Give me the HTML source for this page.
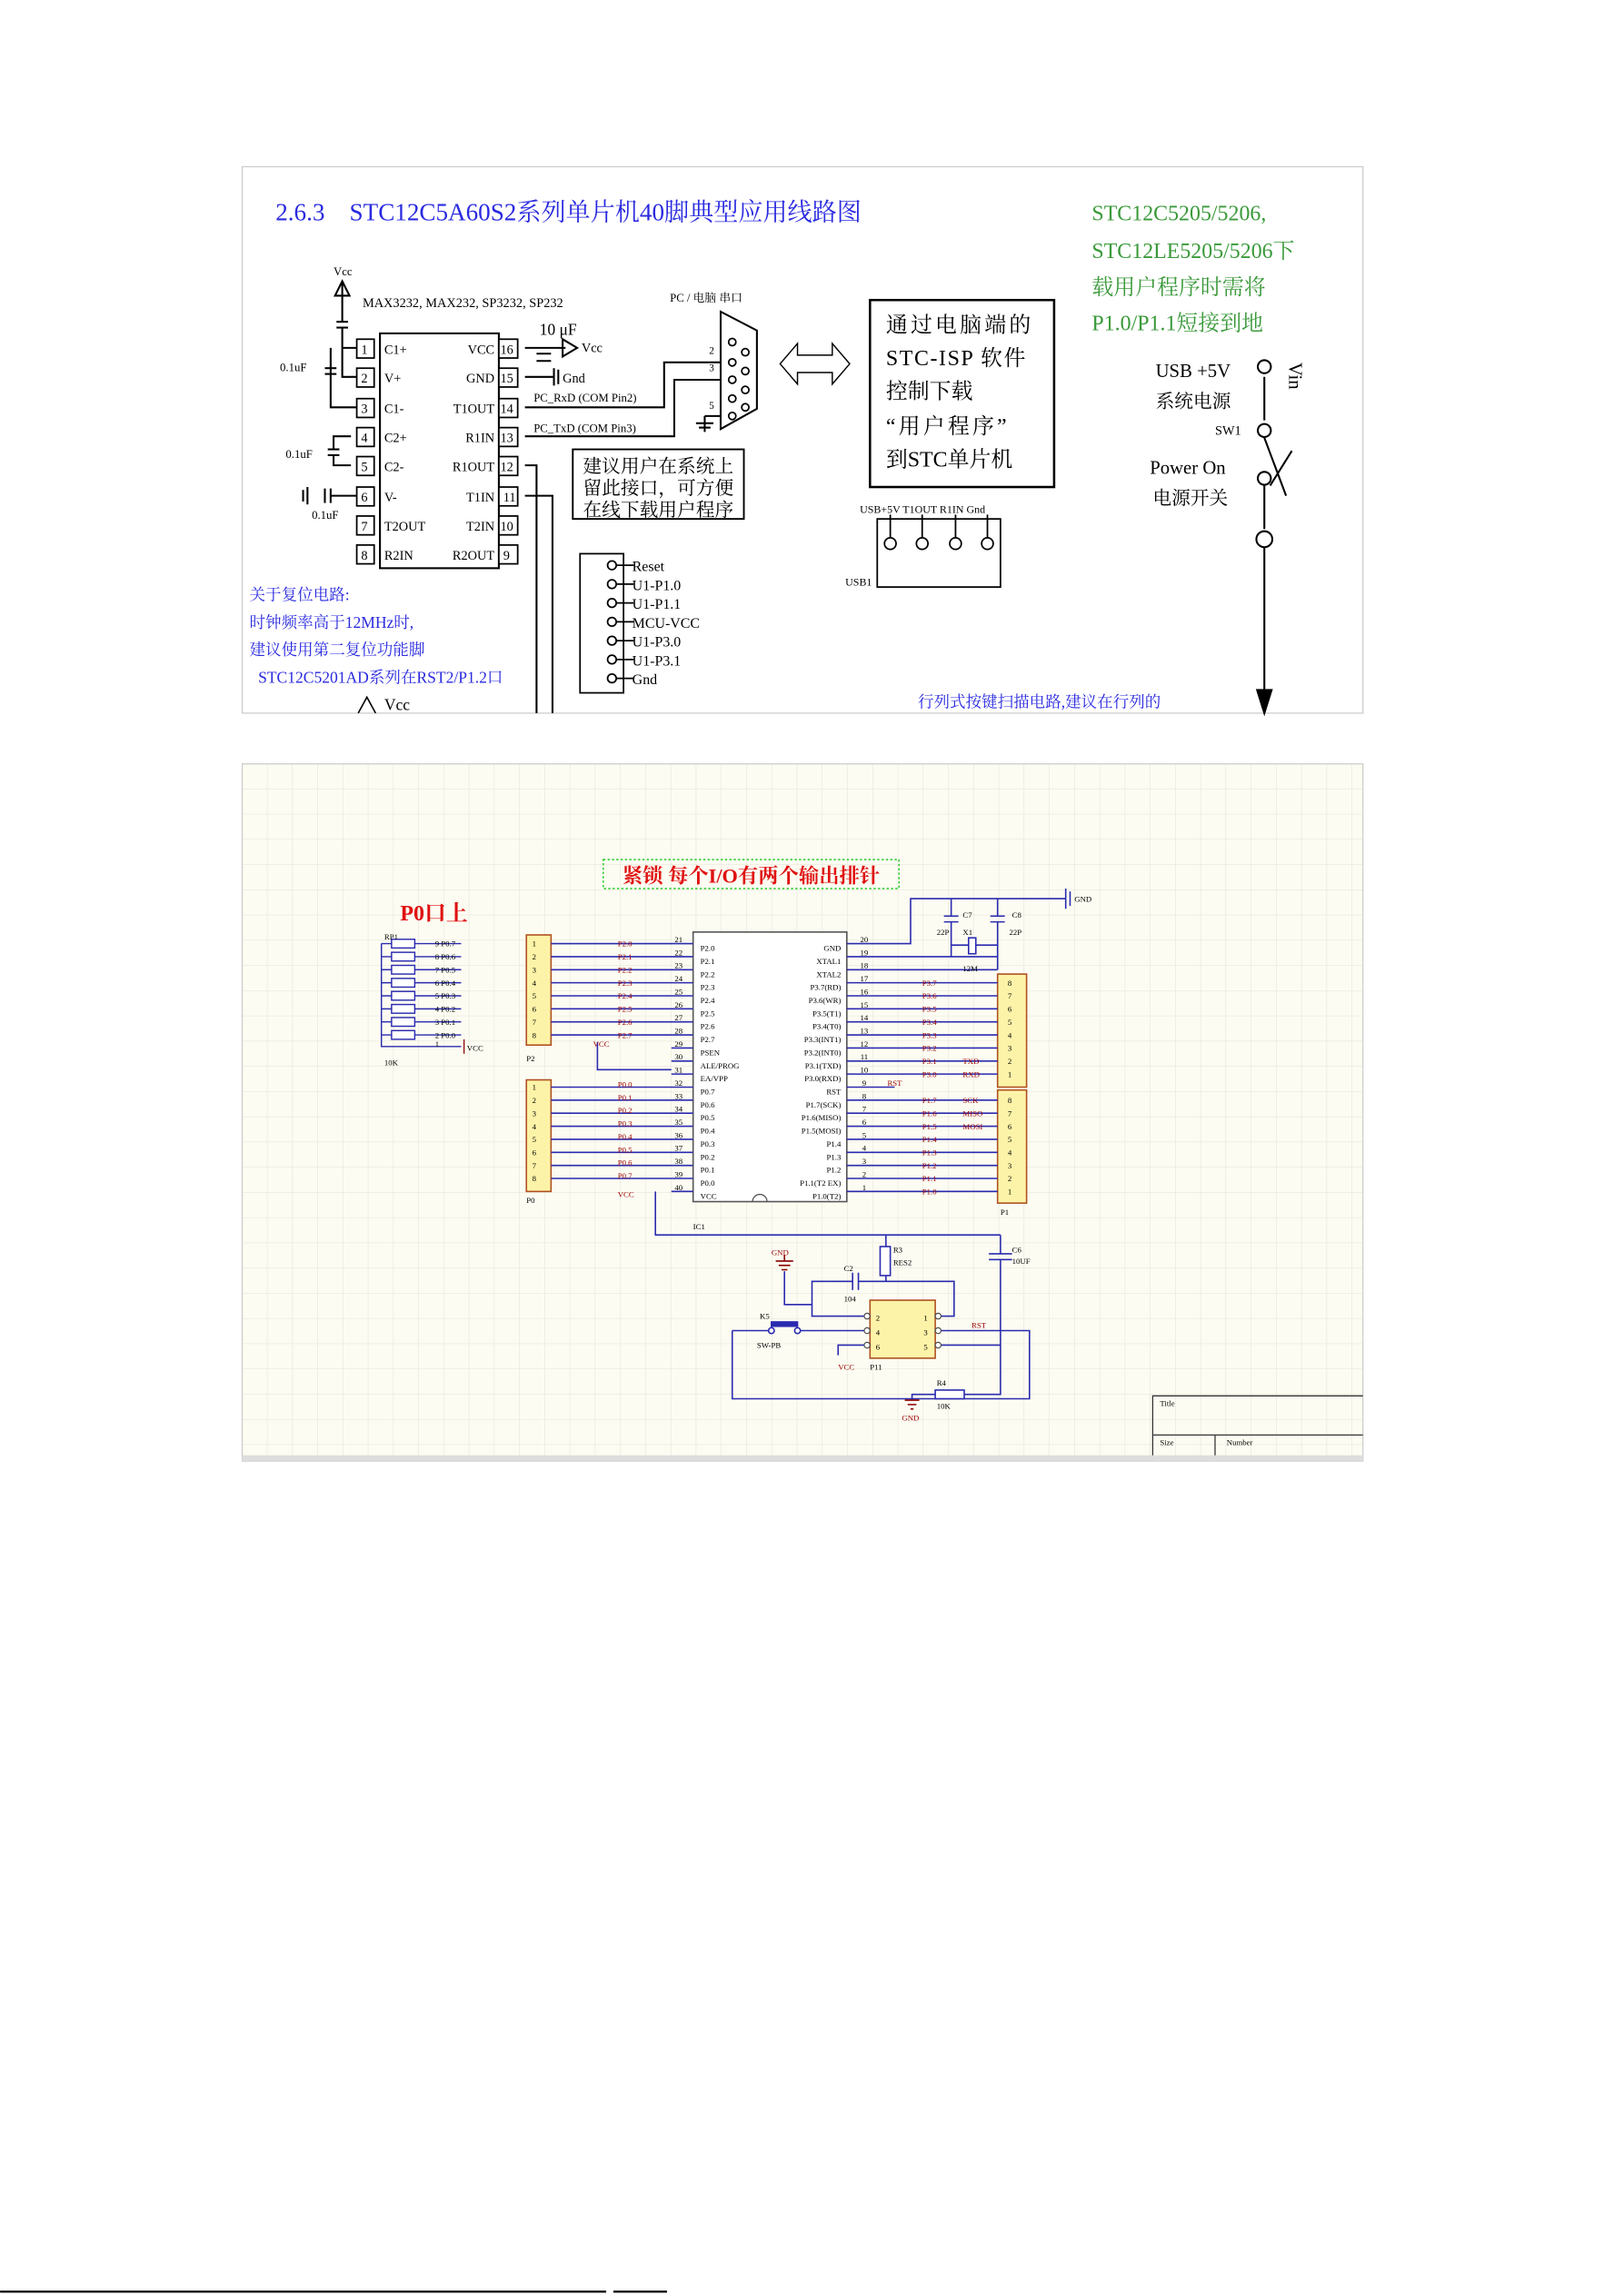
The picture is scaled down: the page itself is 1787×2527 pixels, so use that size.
<!DOCTYPE html>
<html><head><meta charset="utf-8"><style>
html,body{margin:0;padding:0;background:#fff;}
svg{display:block;}
text{font-family:"Liberation Serif","Noto Serif CJK SC","Noto Sans CJK SC",serif;}
</style></head><body>
<svg width="1787" height="2527" viewBox="0 0 1120 1584" xmlns="http://www.w3.org/2000/svg">
<defs>
<pattern id="g" width="17.4" height="17.4" patternUnits="userSpaceOnUse" x="167" y="527">
<path d="M17.4 0V17.4H0" fill="none" stroke="#e2e2d8" stroke-width="0.6"/></pattern>
</defs>
<!-- TOP PANEL -->
<rect x="167" y="115" width="773" height="377" fill="#fff" stroke="#ccc" stroke-width="0.8"/>
<text x="190" y="152" font-size="17" fill="#2a2ae0">2.6.3　STC12C5A60S2系列单片机40脚典型应用线路图</text>
<g font-size="15" fill="#3a9a3a">
<text x="753" y="152">STC12C5205/5206,</text>
<text x="753" y="178">STC12LE5205/5206下</text>
<text x="753" y="203">载用户程序时需将</text>
<text x="753" y="228">P1.0/P1.1短接到地</text>
</g>
<g stroke="#000" fill="none" stroke-width="1.3">
<rect x="262" y="230" width="82" height="162"/>
<line x1="236" y1="195" x2="236" y2="222"/><path d="M231 204 L236 194 L241 204 Z"/>
<line x1="232" y1="222" x2="240" y2="222"/><line x1="232" y1="226" x2="240" y2="226"/>
<path d="M236 226 V240 H246 M236 240 V260 H246"/>
<path d="M228 240 V281 H246"/>
<line x1="224" y1="254" x2="232" y2="254"/><line x1="224" y1="258" x2="232" y2="258"/>
<path d="M242 301 H230 V310 M242 321 H230 V314"/>
<line x1="226" y1="310" x2="234" y2="310"/><line x1="226" y1="314" x2="234" y2="314"/>
<path d="M246 342 H228"/><line x1="228" y1="337" x2="228" y2="347"/><line x1="224" y1="337" x2="224" y2="347"/>
<line x1="212" y1="336" x2="212" y2="348"/><line x1="209" y1="338" x2="209" y2="346"/>
<path d="M362 240 H390"/><path d="M388 234 L398 240 L388 246 Z"/>
<path d="M362 260 H382"/><line x1="382" y1="254" x2="382" y2="266"/><line x1="385" y1="255" x2="385" y2="265"/>
<line x1="370" y1="244" x2="380" y2="244"/><line x1="370" y1="249" x2="380" y2="249"/>
<path d="M362 281 H458 V250 H497"/>
<path d="M362 301 H465 V262 H497"/>
<path d="M362 321 H370 V492 M362 342 H381 V492"/>
<path d="M486 287 H497 M486 287 V298"/><line x1="480" y1="292" x2="492" y2="292"/><line x1="482" y1="295" x2="490" y2="295"/>
<path d="M497 215 L522 228 V282 L497 296 Z"/>
</g>
<g font-size="9" fill="#000">
<text x="230" y="190" font-size="8">Vcc</text>
<text x="250" y="212">MAX3232, MAX232, SP3232, SP232</text>
<text x="372" y="231" font-size="11">10 μF</text>
<text x="401" y="243">Vcc</text>
<text x="388" y="264">Gnd</text>
<text x="368" y="277" font-size="8">PC_RxD (COM Pin2)</text>
<text x="368" y="298" font-size="8">PC_TxD (COM Pin3)</text>
<text x="462" y="208" font-size="8">PC / 电脑 串口</text>
<text x="193" y="256" font-size="8">0.1uF</text>
<text x="197" y="316" font-size="8">0.1uF</text>
<text x="215" y="358" font-size="8">0.1uF</text>
<text x="489" y="244" font-size="7">2</text><text x="489" y="256" font-size="7">3</text><text x="489" y="282" font-size="7">5</text>
</g>
<g fill="#fff" stroke="#000" stroke-width="1.1">
<rect x="246" y="234" width="12" height="13"/><rect x="246" y="254" width="12" height="13"/><rect x="246" y="275" width="12" height="13"/><rect x="246" y="295" width="12" height="13"/><rect x="246" y="315" width="12" height="13"/><rect x="246" y="336" width="12" height="13"/><rect x="246" y="356" width="12" height="13"/><rect x="246" y="376" width="12" height="13"/>
<rect x="344" y="234" width="13" height="13"/><rect x="344" y="254" width="13" height="13"/><rect x="344" y="275" width="13" height="13"/><rect x="344" y="295" width="13" height="13"/><rect x="344" y="315" width="13" height="13"/><rect x="344" y="336" width="13" height="13"/><rect x="344" y="356" width="13" height="13"/><rect x="344" y="376" width="13" height="13"/>
<circle cx="505" cy="236" r="2.5"/><circle cx="505" cy="250" r="2.5"/><circle cx="505" cy="262" r="2.5"/><circle cx="505" cy="275" r="2.5"/><circle cx="505" cy="287" r="2.5"/>
<circle cx="514" cy="243" r="2.5"/><circle cx="514" cy="256" r="2.5"/><circle cx="514" cy="269" r="2.5"/><circle cx="514" cy="281" r="2.5"/>
</g>
<g font-size="9" fill="#000">
<text x="249" y="244">1</text><text x="249" y="264">2</text><text x="249" y="285">3</text><text x="249" y="305">4</text><text x="249" y="325">5</text><text x="249" y="346">6</text><text x="249" y="366">7</text><text x="249" y="386">8</text>
<text x="345" y="244">16</text><text x="345" y="264">15</text><text x="345" y="285">14</text><text x="345" y="305">13</text><text x="345" y="325">12</text><text x="347" y="346">11</text><text x="345" y="366">10</text><text x="347" y="386">9</text>
<text x="265" y="244">C1+</text><text x="265" y="264">V+</text><text x="265" y="285">C1-</text><text x="265" y="305">C2+</text><text x="265" y="325">C2-</text><text x="265" y="346">V-</text><text x="265" y="366">T2OUT</text><text x="265" y="386">R2IN</text>
<text x="341" y="244" text-anchor="end">VCC</text><text x="341" y="264" text-anchor="end">GND</text><text x="341" y="285" text-anchor="end">T1OUT</text><text x="341" y="305" text-anchor="end">R1IN</text><text x="341" y="325" text-anchor="end">R1OUT</text><text x="341" y="346" text-anchor="end">T1IN</text><text x="341" y="366" text-anchor="end">T2IN</text><text x="341" y="386" text-anchor="end">R2OUT</text>
</g>
<path d="M538 251 L550 237 V245 H574 V237 L586 251 L574 265 V257 H550 V265 Z" fill="#fff" stroke="#000" stroke-width="0.9"/>
<rect x="600" y="207" width="127" height="129" fill="#fff" stroke="#000" stroke-width="1.6"/>
<g font-size="15" fill="#000">
<text x="611" y="229" letter-spacing="2">通过电脑端的</text>
<text x="611" y="252" letter-spacing="1">STC-ISP 软件</text>
<text x="611" y="275">控制下载</text>
<text x="611" y="299" letter-spacing="2">“用户程序”</text>
<text x="611" y="322">到STC单片机</text>
</g>
<rect x="395" y="310" width="118" height="48" fill="#fff" stroke="#000" stroke-width="1.2"/>
<g font-size="13" fill="#000"><text x="402" y="326">建议用户在系统上</text><text x="402" y="341">留此接口，可方便</text><text x="402" y="356">在线下载用户程序</text></g>
<g font-size="7.5" fill="#000"><text x="593" y="354">USB+5V T1OUT R1IN Gnd</text><text x="583" y="404">USB1</text></g>
<g stroke="#000" fill="#fff" stroke-width="1.1">
<rect x="605" y="358" width="85" height="47"/>
<path d="M614 355 V372 M636 355 V372 M659 355 V372 M681 355 V372"/>
<circle cx="614" cy="375" r="4"/><circle cx="636" cy="375" r="4"/><circle cx="659" cy="375" r="4"/><circle cx="681" cy="375" r="4"/>
</g>
<g stroke="#000" fill="#fff" stroke-width="1.3">
<line x1="872" y1="260" x2="872" y2="290"/><line x1="872" y1="335" x2="872" y2="365"/><line x1="872" y1="378" x2="872" y2="478"/>
<path d="M867 476 L872 492 L877 476 Z" fill="#000"/>
<circle cx="872" cy="253" r="4.5"/><circle cx="872" cy="297" r="4.5"/><circle cx="872" cy="330" r="4.5"/><circle cx="872" cy="372" r="5.5"/>
<line x1="872" y1="302" x2="887" y2="342"/><line x1="891" y1="311" x2="876" y2="335"/>
</g>
<g font-size="13" fill="#000">
<text x="797" y="260">USB +5V</text><text x="797" y="281">系统电源</text><text x="838" y="300" font-size="9">SW1</text>
<text x="793" y="327">Power On</text><text x="795" y="348">电源开关</text>
<text x="889" y="250" transform="rotate(90 889 250)">Vin</text>
</g>
<rect x="400" y="382" width="30" height="96" fill="#fff" stroke="#000" stroke-width="1.1"/>
<g stroke="#000" fill="#fff" stroke-width="1.1">
<circle cx="422" cy="390" r="3"/><circle cx="422" cy="403" r="3"/><circle cx="422" cy="416" r="3"/><circle cx="422" cy="429" r="3"/><circle cx="422" cy="442" r="3"/><circle cx="422" cy="455" r="3"/><circle cx="422" cy="468" r="3"/>
<path d="M425 390H437M425 403H437M425 416H437M425 429H437M425 442H437M425 455H437M425 468H437"/>
</g>
<g font-size="10" fill="#000"><text x="436" y="394">Reset</text><text x="436" y="407">U1-P1.0</text><text x="436" y="420">U1-P1.1</text><text x="436" y="433">MCU-VCC</text><text x="436" y="446">U1-P3.0</text><text x="436" y="459">U1-P3.1</text><text x="436" y="472">Gnd</text></g>
<g font-size="11" fill="#2a2ae0">
<text x="172" y="414">关于复位电路:</text><text x="172" y="433">时钟频率高于12MHz时,</text><text x="172" y="452">建议使用第二复位功能脚</text><text x="178" y="471">STC12C5201AD系列在RST2/P1.2口</text>
<text x="633" y="488">行列式按键扫描电路,建议在行列的</text>
</g>
<path d="M247 492 L253 481 L259 492" stroke="#000" fill="none" stroke-width="1"/>
<text x="265" y="490" font-size="11" fill="#000">Vcc</text>

<!-- BOTTOM PANEL -->
<rect x="167" y="527" width="773" height="481" fill="#fcfcf2"/>
<rect x="167" y="527" width="773" height="481" fill="url(#g)" stroke="#ccc" stroke-width="0.8"/>
<rect x="167" y="1004" width="773" height="4" fill="#ddd"/>
<rect x="416" y="593" width="204" height="20" fill="none" stroke="#3c3" stroke-width="1" stroke-dasharray="1.5 1.5"/>
<text x="518" y="609" font-size="14" fill="#e01010" text-anchor="middle" font-weight="bold">紧锁 每个I/O有两个输出排针</text>
<text x="276" y="635" font-size="15" fill="#e01010" font-weight="bold">P0口上</text>
<g stroke="#2a2ab0" stroke-width="0.9" fill="none">
<path d="M263 651V722H300 M263 651H318 M263 660H318 M263 669H318 M263 678H318 M263 687H318 M263 696H318 M263 705H318 M263 714H318 M300 722H318"/>
</g>
<g stroke="#2a2ab0" stroke-width="0.9" fill="#fff">
<rect x="270" y="648" width="16" height="6"/><rect x="270" y="657" width="16" height="6"/><rect x="270" y="666" width="16" height="6"/><rect x="270" y="675" width="16" height="6"/><rect x="270" y="684" width="16" height="6"/><rect x="270" y="693" width="16" height="6"/><rect x="270" y="702" width="16" height="6"/><rect x="270" y="711" width="16" height="6"/>
</g>
<g font-size="5.5" fill="#000"><text x="265" y="648">RP1</text><text x="265" y="735">10K</text><text x="322" y="725">VCC</text>
<text x="300" y="653">9 P0.7</text><text x="300" y="662">8 P0.6</text><text x="300" y="671">7 P0.5</text><text x="300" y="680">6 P0.4</text><text x="300" y="689">5 P0.3</text><text x="300" y="698">4 P0.2</text><text x="300" y="707">3 P0.1</text><text x="300" y="716">2 P0.0</text><text x="300" y="722">1</text></g>
<line x1="320" y1="717" x2="320" y2="727" stroke="#800" stroke-width="0.8"/>
<g fill="#fdf3a8" stroke="#b05020" stroke-width="1">
<rect x="363" y="645" width="17" height="76"/><rect x="363" y="745" width="17" height="77"/>
<rect x="688" y="672" width="20" height="78"/><rect x="688" y="752" width="20" height="78"/>
</g>
<rect x="478" y="643" width="106" height="186" fill="#fff" stroke="#555" stroke-width="1"/>
<path d="M519 829 a5 5 0 0 1 10 0" fill="none" stroke="#555" stroke-width="0.8"/>
<g stroke="#2a2ab0" stroke-width="1" fill="none">
<path d="M380 651H478M380 660H478M380 669H478M380 678H478M380 687H478M380 696H478M380 705H478M380 714H478"/>
<path d="M463 723H478M463 732H478M463 741H478"/>
<path d="M380 750H478M380 759H478M380 768H478M380 777H478M380 786H478M380 795H478M380 804H478M380 813H478M463 822H478"/>
<path d="M412 719V738H463"/>
<path d="M584 651H628V620H735 M584 660H688 M584 669H688"/>
<path d="M584 678H688M584 687H688M584 696H688M584 705H688M584 714H688M584 723H688M584 732H688M584 741H688"/>
<path d="M584 750H617"/>
<path d="M584 759H688M584 768H688M584 777H688M584 786H688M584 795H688M584 804H688M584 813H688M584 822H688"/>
<path d="M656 620V632M688 620V632M656 636V660M688 636V669M656 652H668M673 652H688"/>
<path d="M452 822V852H690"/>
<path d="M611 852V860M611 880V884M570 884H588M592 884H658V908H649"/>
<path d="M690 852V865M690 869V962H665"/>
<path d="M541 877V900H560V908H596M560 900V884H570"/>
<path d="M505 918H530M552 918H596 M505 918V965H710V918H649 M649 928H690"/>
<path d="M629 966V962H645"/>
<path d="M578 935V928H596"/>
</g>
<g stroke="#2a2ab0" stroke-width="1" fill="#fff">
<line x1="651" y1="632" x2="661" y2="632"/><line x1="651" y1="636" x2="661" y2="636"/>
<line x1="683" y1="632" x2="693" y2="632"/><line x1="683" y1="636" x2="693" y2="636"/>
<rect x="668" y="647" width="5" height="11"/>
<line x1="735" y1="613" x2="735" y2="627"/><line x1="738" y1="615" x2="738" y2="625"/>
<rect x="607" y="860" width="7" height="20"/>
<line x1="588" y1="878" x2="588" y2="890"/><line x1="592" y1="878" x2="592" y2="890"/>
<line x1="682" y1="865" x2="698" y2="865"/><line x1="682" y1="869" x2="698" y2="869"/>
<rect x="645" y="959" width="20" height="6"/>
<rect x="532" y="912" width="18" height="3" fill="#2a2ab0"/><circle cx="532" cy="918" r="2"/><circle cx="550" cy="918" r="2"/>
</g>
<g stroke="#800" stroke-width="1" fill="none">
<path d="M535 870H547M537 873H545M539 876H543M541 866V870"/>
<path d="M624 966H634M626 969H632M628 972H630"/>
</g>
<rect x="600" y="897" width="45" height="40" fill="#fdf3a8" stroke="#b05020" stroke-width="1"/>
<g stroke="#444" fill="#fff" stroke-width="0.7"><circle cx="598" cy="908" r="2"/><circle cx="598" cy="918" r="2"/><circle cx="598" cy="928" r="2"/><circle cx="647" cy="908" r="2"/><circle cx="647" cy="918" r="2"/><circle cx="647" cy="928" r="2"/></g>
<g font-size="5.5" fill="#000">
<text x="367" y="653">1</text><text x="367" y="662">2</text><text x="367" y="671">3</text><text x="367" y="680">4</text><text x="367" y="689">5</text><text x="367" y="698">6</text><text x="367" y="707">7</text><text x="367" y="716">8</text>
<text x="367" y="752">1</text><text x="367" y="761">2</text><text x="367" y="770">3</text><text x="367" y="779">4</text><text x="367" y="788">5</text><text x="367" y="797">6</text><text x="367" y="806">7</text><text x="367" y="815">8</text>
<text x="363" y="732">P2</text><text x="363" y="830">P0</text><text x="690" y="838">P1</text>
<text x="695" y="680">8</text><text x="695" y="689">7</text><text x="695" y="698">6</text><text x="695" y="707">5</text><text x="695" y="716">4</text><text x="695" y="725">3</text><text x="695" y="734">2</text><text x="695" y="743">1</text>
<text x="695" y="761">8</text><text x="695" y="770">7</text><text x="695" y="779">6</text><text x="695" y="788">5</text><text x="695" y="797">4</text><text x="695" y="806">3</text><text x="695" y="815">2</text><text x="695" y="824">1</text>
<g text-anchor="middle"><text x="468" y="650">21</text><text x="468" y="659">22</text><text x="468" y="668">23</text><text x="468" y="677">24</text><text x="468" y="686">25</text><text x="468" y="695">26</text><text x="468" y="704">27</text><text x="468" y="713">28</text><text x="468" y="722">29</text><text x="468" y="731">30</text><text x="468" y="740">31</text><text x="468" y="749">32</text><text x="468" y="758">33</text><text x="468" y="767">34</text><text x="468" y="776">35</text><text x="468" y="785">36</text><text x="468" y="794">37</text><text x="468" y="803">38</text><text x="468" y="812">39</text><text x="468" y="821">40</text>
<text x="596" y="650">20</text><text x="596" y="659">19</text><text x="596" y="668">18</text><text x="596" y="677">17</text><text x="596" y="686">16</text><text x="596" y="695">15</text><text x="596" y="704">14</text><text x="596" y="713">13</text><text x="596" y="722">12</text><text x="596" y="731">11</text><text x="596" y="740">10</text><text x="596" y="749">9</text><text x="596" y="758">8</text><text x="596" y="767">7</text><text x="596" y="776">6</text><text x="596" y="785">5</text><text x="596" y="794">4</text><text x="596" y="803">3</text><text x="596" y="812">2</text><text x="596" y="821">1</text></g>
<text x="483" y="656">P2.0</text><text x="483" y="665">P2.1</text><text x="483" y="674">P2.2</text><text x="483" y="683">P2.3</text><text x="483" y="692">P2.4</text><text x="483" y="701">P2.5</text><text x="483" y="710">P2.6</text><text x="483" y="719">P2.7</text><text x="483" y="728">PSEN</text><text x="483" y="737">ALE/PROG</text><text x="483" y="746">EA/VPP</text><text x="483" y="755">P0.7</text><text x="483" y="764">P0.6</text><text x="483" y="773">P0.5</text><text x="483" y="782">P0.4</text><text x="483" y="791">P0.3</text><text x="483" y="800">P0.2</text><text x="483" y="809">P0.1</text><text x="483" y="818">P0.0</text><text x="483" y="827">VCC</text>
<g text-anchor="end"><text x="580" y="656">GND</text><text x="580" y="665">XTAL1</text><text x="580" y="674">XTAL2</text><text x="580" y="683">P3.7(RD)</text><text x="580" y="692">P3.6(WR)</text><text x="580" y="701">P3.5(T1)</text><text x="580" y="710">P3.4(T0)</text><text x="580" y="719">P3.3(INT1)</text><text x="580" y="728">P3.2(INT0)</text><text x="580" y="737">P3.1(TXD)</text><text x="580" y="746">P3.0(RXD)</text><text x="580" y="755">RST</text><text x="580" y="764">P1.7(SCK)</text><text x="580" y="773">P1.6(MISO)</text><text x="580" y="782">P1.5(MOSI)</text><text x="580" y="791">P1.4</text><text x="580" y="800">P1.3</text><text x="580" y="809">P1.2</text><text x="580" y="818">P1.1(T2 EX)</text><text x="580" y="827">P1.0(T2)</text></g>
<text x="664" y="633">C7</text><text x="698" y="633">C8</text><text x="646" y="645">22P</text><text x="696" y="645">22P</text><text x="664" y="645">X1</text><text x="664" y="670">12M</text>
<text x="741" y="622">GND</text><text x="478" y="848">IC1</text><text x="524" y="910">K5</text><text x="522" y="930">SW-PB</text><text x="582" y="877">C2</text><text x="582" y="898">104</text><text x="616" y="864">R3</text><text x="616" y="873">RES2</text><text x="698" y="864">C6</text><text x="698" y="872">10UF</text><text x="646" y="956">R4</text><text x="646" y="972">10K</text><text x="600" y="945">P11</text>
<text x="604" y="911">2</text><text x="604" y="921">4</text><text x="604" y="931">6</text><text x="637" y="911">1</text><text x="637" y="921">3</text><text x="637" y="931">5</text>
</g>
<g font-size="5.5" fill="#900">
<text x="426" y="653">P2.0</text><text x="426" y="662">P2.1</text><text x="426" y="671">P2.2</text><text x="426" y="680">P2.3</text><text x="426" y="689">P2.4</text><text x="426" y="698">P2.5</text><text x="426" y="707">P2.6</text><text x="426" y="716">P2.7</text>
<text x="426" y="750">P0.0</text><text x="426" y="759">P0.1</text><text x="426" y="768">P0.2</text><text x="426" y="777">P0.3</text><text x="426" y="786">P0.4</text><text x="426" y="795">P0.5</text><text x="426" y="804">P0.6</text><text x="426" y="813">P0.7</text>
<text x="636" y="680">P3.7</text><text x="636" y="689">P3.6</text><text x="636" y="698">P3.5</text><text x="636" y="707">P3.4</text><text x="636" y="716">P3.3</text><text x="636" y="725">P3.2</text><text x="636" y="734">P3.1</text><text x="636" y="743">P3.0</text><text x="664" y="734">TXD</text><text x="664" y="743">RXD</text>
<text x="612" y="749">RST</text>
<text x="636" y="761">P1.7</text><text x="636" y="770">P1.6</text><text x="636" y="779">P1.5</text><text x="636" y="788">P1.4</text><text x="636" y="797">P1.3</text><text x="636" y="806">P1.2</text><text x="636" y="815">P1.1</text><text x="636" y="824">P1.0</text><text x="664" y="761">SCK</text><text x="664" y="770">MISO</text><text x="664" y="779">MOSI</text>
<text x="409" y="722">VCC</text><text x="426" y="826">VCC</text><text x="532" y="866">GND</text><text x="622" y="980">GND</text><text x="578" y="945">VCC</text><text x="670" y="916">RST</text>
</g>
<g stroke="#333" stroke-width="0.8" fill="none"><path d="M795 1004V963H940M795 990H940M838 990V1004"/></g>
<g font-size="5.5" fill="#000"><text x="800" y="970">Title</text><text x="800" y="997">Size</text><text x="846" y="997">Number</text></g>
<line x1="0" y1="1581" x2="418" y2="1581" stroke="#000" stroke-width="1.5"/>
<line x1="423" y1="1581" x2="460" y2="1581" stroke="#000" stroke-width="1.5"/>
</svg>
</body></html>
